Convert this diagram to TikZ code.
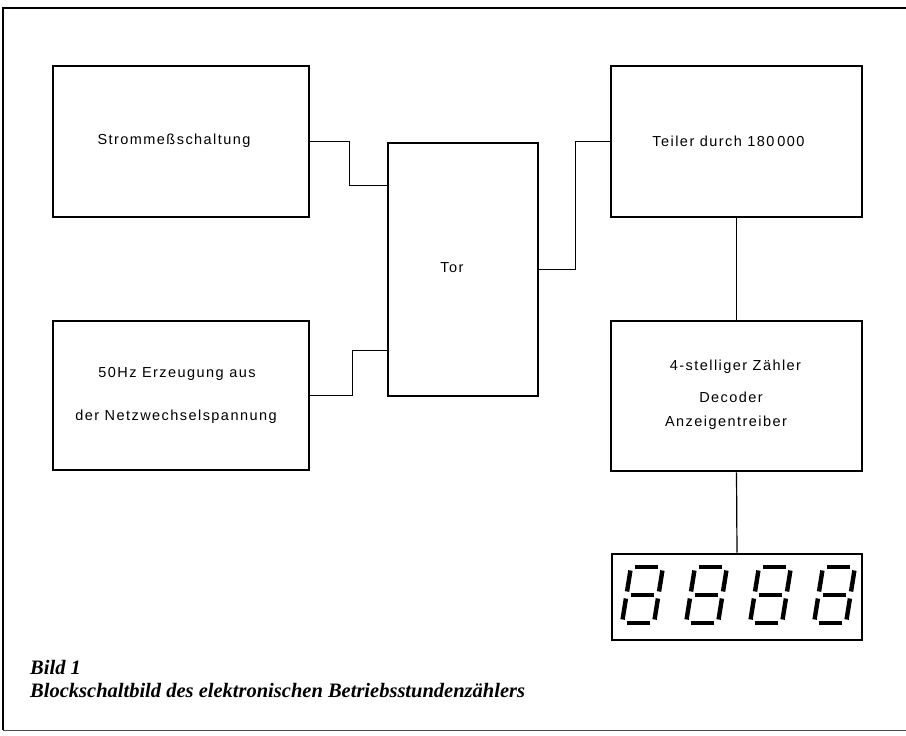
\documentclass[tikz,border=0pt]{standalone}
\usepackage{fontspec}
\usetikzlibrary{calc}
\newfontfamily\blockfont[LetterSpace=10]{Liberation Sans}
\newfontfamily\capfont{Liberation Serif}
\tikzset{
  blk/.style={draw, line width=2.6pt, inner sep=0pt, font=\blockfont\fontsize{14.5}{17}\selectfont},
  lbl/.style={inner sep=0pt, font=\blockfont\fontsize{14.5}{17}\selectfont},
  wire/.style={line width=1.2pt},
  framestyle/.style={line width=2pt},
  seg/.style={line width=4.4pt},
  captxt/.style={inner sep=0pt, anchor=west, font=\capfont\bfseries\itshape\fontsize{20.5}{24}\selectfont}
}
\begin{document}
\begin{tikzpicture}[x=1pt,y=-1pt]
\useasboundingbox (0,0) rectangle (906,736);
% frame
\draw[framestyle] (906,8) -- (3,8) -- (3,730);
\draw[line width=0.8pt, black!70] (3,730) -- (906,730);
% blocks
\node[blk, minimum width=256pt, minimum height=151pt] (b1) at (181,141.5) {};
\node[blk, minimum width=256pt, minimum height=149pt] (b2) at (181,395.5) {};
\node[blk, minimum width=150pt, minimum height=253pt] (tor) at (463,269.5) {};
\node[blk, minimum width=251pt, minimum height=151pt] (b3) at (736.5,141.5) {};
\node[blk, minimum width=251pt, minimum height=150pt] (b4) at (736.5,396) {};
\node[blk, minimum width=250pt, minimum height=86pt] (disp) at (737,597) {};
% labels
\node[lbl] (t1) at (174,141) {Strommeßschaltung};
\node[lbl] (t2a) at (177,374) {50Hz Erzeugung aus};
\node[lbl] (t2b) at (176,417) {der Netzwechselspannung};
\node[lbl] (t3) at (452,268) {Tor};
\node[lbl] (t4) at (728.5,141) {Teiler durch 180\hspace{3pt}000};
\node[lbl] (t5a) at (735.5,367) {4-stelliger Zähler};
\node[lbl] (t5b) at (731,397) {Decoder};
\node[lbl] (t5c) at (726,423) {Anzeigentreiber};
% connectors
\draw[wire] (b1.east) -- ++(39,0) |- ($(tor.north west)+(0,44)$);
\draw[wire] (b2.east) -- ++(42,0) |- ($(tor.south west)+(0,-47)$);
\draw[wire] (tor.east) -- ++(36,0) |- (b3.west);
\draw[wire] (b3.south) -- (b4.north);
\draw[wire] (b4.south) -- (disp.north);
% seven-segment digits
\foreach \dx in {622,686,750,814}{
  \begin{scope}[shift={(\dx,623)}, xslant=0.16]
    \draw[seg] (4.5,-56) -- (27.5,-56);
    \draw[seg] (4.5,-28) -- (27.5,-28);
    \draw[seg] (4.5,0) -- (27.5,0);
    \draw[seg] (0,-52.5) -- (0,-31.5);
    \draw[seg] (32,-52.5) -- (32,-31.5);
    \draw[seg] (0,-24.5) -- (0,-3.5);
    \draw[seg] (32,-24.5) -- (32,-3.5);
  \end{scope}
}
% caption
\node[captxt] (c1) at (30,667) {Bild 1};
\node[captxt] (c2) at (30,691) {Blockschaltbild des elektronischen Betriebsstundenzählers};
\end{tikzpicture}
\end{document}
